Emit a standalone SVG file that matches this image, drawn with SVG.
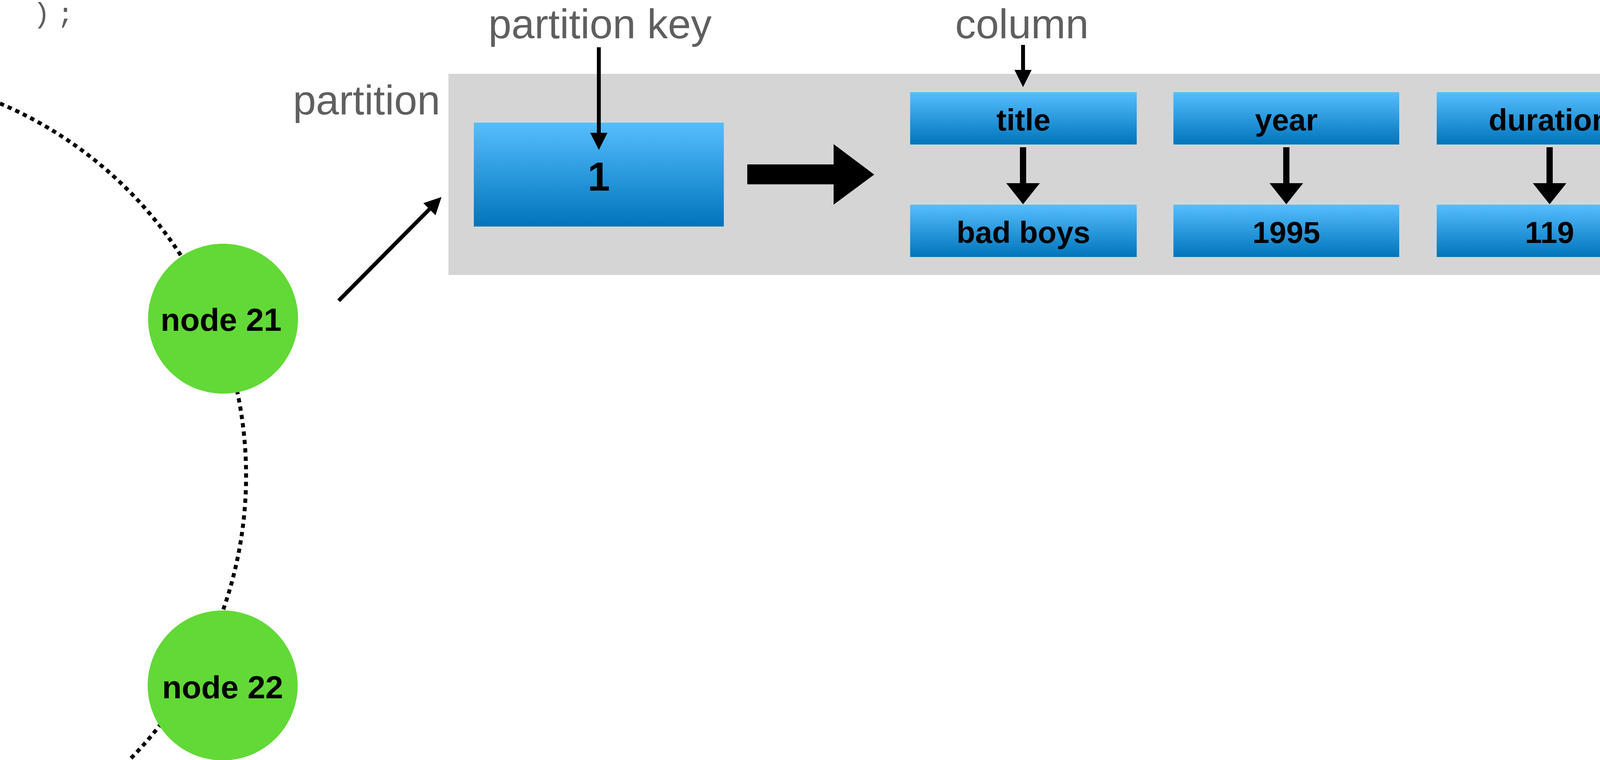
<svg xmlns="http://www.w3.org/2000/svg" width="4331" height="1946" viewBox="0 0 4331 1946">
  <style>
    .label { font-family: "Liberation Sans", Arial, sans-serif; font-size: 106px; fill: #5f5f5f; }
    .code { font-family: "Liberation Mono", "Courier New", monospace; font-size: 72px; fill: #5f5f5f; }
    .boxtxt { font-family: "Liberation Sans", Arial, sans-serif; font-size: 78px; font-weight: bold; fill: #000; text-anchor: middle; }
    .nodetxt { font-family: "Liberation Sans", Arial, sans-serif; font-size: 82px; font-weight: bold; fill: #000; text-anchor: middle; }
    .cell { fill: url(#blueGrad); }
    .node { fill: #62d937; }
    .thin { stroke: #000; stroke-width: 10; fill: none; }
    .thick { stroke: #000; stroke-width: 16; fill: none; }
    .ring { stroke: #000; stroke-width: 10; fill: none; stroke-dasharray: 11 10.5; }
  </style>
  <defs>
    <linearGradient id="blueGrad" x1="0" y1="0" x2="0" y2="1">
      <stop offset="0" stop-color="#56befe"/>
      <stop offset="1" stop-color="#0074bb"/>
    </linearGradient>
    <marker id="headSmall" markerUnits="userSpaceOnUse" viewBox="0 0 44 44" markerWidth="44" markerHeight="44" refX="1" refY="22" orient="auto">
      <path d="M0,0 L44,22 L0,44 Z" fill="#000"/>
    </marker>
    <marker id="headBig" markerUnits="userSpaceOnUse" viewBox="0 0 54 86" markerWidth="54" markerHeight="86" refX="1" refY="43" orient="auto">
      <path d="M0,0 L54,43 L0,86 Z" fill="#000"/>
    </marker>
  </defs>

  <rect width="4331" height="1946" fill="#fff"/>

  <!-- code fragment -->
  <text class="code" x="85 146" y="58">);</text>

  <!-- ring (dotted) -->
  <g id="ring">
    <path class="ring" d="M -60 241.5 A 1036 1036 0 0 1 273.5 2000"/>
  </g>

  <!-- partition container -->
  <g id="partition">
    <rect x="1148" y="189" width="3183" height="515" fill="#d5d5d5"/>
    <text class="label" x="1127" y="293" text-anchor="end">partition</text>
  </g>

  <g id="label-partition-key">
    <text class="label" x="1536" y="98" text-anchor="middle">partition key</text>
  </g>
  <g id="label-column">
    <text class="label" x="2616" y="98" text-anchor="middle">column</text>
  </g>

  <g id="key-1">
    <rect class="cell" x="1213" y="314" width="640" height="266"/>
    <text class="boxtxt" x="1533" y="488" style="font-size:103px">1</text>
  </g>

  <g id="col-title">
    <rect class="cell" x="2330" y="236" width="580" height="134"/>
    <text class="boxtxt" x="2620" y="334">title</text>
  </g>
  <g id="col-year">
    <rect class="cell" x="3004" y="236" width="578" height="134"/>
    <text class="boxtxt" x="3293" y="334">year</text>
  </g>
  <g id="col-duration">
    <rect class="cell" x="3678" y="236" width="579" height="134"/>
    <text class="boxtxt" x="3967" y="334">duration</text>
  </g>
  <g id="val-badboys">
    <rect class="cell" x="2330" y="524" width="580" height="134"/>
    <text class="boxtxt" x="2620" y="622">bad boys</text>
  </g>
  <g id="val-1995">
    <rect class="cell" x="3004" y="524" width="578" height="134"/>
    <text class="boxtxt" x="3293" y="622">1995</text>
  </g>
  <g id="val-119">
    <rect class="cell" x="3678" y="524" width="579" height="134"/>
    <text class="boxtxt" x="3967" y="622">119</text>
  </g>

  <g id="node21">
    <circle class="node" cx="571" cy="816" r="192"/>
    <text class="nodetxt" x="566" y="847">node 21</text>
  </g>
  <g id="node22">
    <circle class="node" cx="570" cy="1755" r="192"/>
    <text class="nodetxt" x="570" y="1788">node 22</text>
  </g>

  <!-- connectors -->
  <g id="connectors">
    <line class="thin" x1="867" y1="770" x2="1100" y2="535" marker-end="url(#headSmall)"/>
    <line class="thin" x1="1533" y1="121" x2="1533" y2="341" marker-end="url(#headSmall)"/>
    <line class="thin" x1="2619" y1="115" x2="2619" y2="180" marker-end="url(#headSmall)"/>
    <line class="thick" x1="2619" y1="377" x2="2619" y2="470" marker-end="url(#headBig)"/>
    <line class="thick" x1="3293" y1="377" x2="3293" y2="470" marker-end="url(#headBig)"/>
    <line class="thick" x1="3967" y1="377" x2="3967" y2="470" marker-end="url(#headBig)"/>
    <polygon points="1913,421 2134,421 2134,369 2238,447 2134,524 2134,472 1913,472" fill="#000"/>
  </g>
</svg>
